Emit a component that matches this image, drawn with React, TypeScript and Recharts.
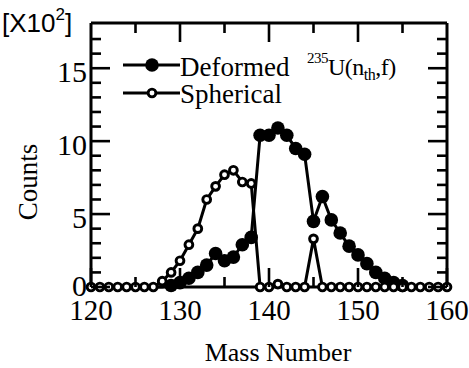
import { LineChart, Line, XAxis, YAxis } from 'recharts';

const massNumbers = [
  120, 121, 122, 123, 124, 125, 126, 127, 128, 129,
  130, 131, 132, 133, 134, 135, 136, 137, 138, 139,
  140, 141, 142, 143, 144, 145, 146, 147, 148, 149,
  150, 151, 152, 153, 154, 155, 156, 157, 158, 159, 160,
];

// counts in units of 10^2
const deformed = [
  0, 0, 0, 0, 0, 0, 0, 0, 0, 0.1,
  0.3, 0.6, 1.0, 1.5, 2.3, 1.8, 2.05, 2.9, 3.4, 10.4,
  10.4, 10.9, 10.4, 9.5, 9.1, 4.5, 6.2, 4.6, 3.7, 2.8,
  2.2, 1.6, 1.0, 0.6, 0.3, 0.1, 0, 0, 0, 0, 0,
];

const spherical = [
  0, 0, 0, 0, 0, 0, 0, 0, 0.4, 1.0,
  1.8, 2.9, 4.0, 6.0, 6.9, 7.7, 8.0, 7.2, 7.1, 0,
  0, 0.2, 0, 0, 0, 3.3, 0, 0, 0, 0,
  0, 0, 0, 0, 0, 0, 0, 0, 0, 0, 0,
];

const xTicksBottom = [120, 125, 130, 135, 140, 145, 150, 155, 160];
const xTicksTop = [125, 130, 135, 140, 145, 150, 155];
const yTicks = [0, 1, 2, 3, 4, 5, 6, 7, 8, 9, 10, 11, 12, 13, 14, 15, 16, 17];
const yLabels = [0, 5, 10, 15];
const xLabels = [120, 130, 140, 150, 160];

const data = massNumbers.map((m, i) => ({ mass: m, deformed: deformed[i], spherical: spherical[i] }));

// the figure uses the whole window, so drop the default body margin
if (typeof document !== 'undefined') document.body.style.margin = '0';

const SERIF = '"Liberation Serif", "Times New Roman", serif';
const MAJOR = 19;
const MINOR = 10;
const TICK_W = 2.6;

const BottomTick = (props: any) => {
  const { x, y, payload } = props;
  const major = payload.value % 10 === 0;
  return (
    <g>
      <line x1={x} x2={x} y1={y} y2={y - (major ? MAJOR : MINOR)} stroke="#000" strokeWidth={TICK_W} />
      {xLabels.includes(payload.value) && (
        <text x={x} y={y + 33} textAnchor="middle" fontFamily={SERIF} fontSize={29} fill="#000">
          {payload.value}
        </text>
      )}
    </g>
  );
};

const TopTick = (props: any) => {
  const { x, y, payload } = props;
  const major = payload.value % 10 === 0;
  return <line x1={x} x2={x} y1={y} y2={y + (major ? MAJOR : MINOR)} stroke="#000" strokeWidth={TICK_W} />;
};

const LeftTick = (props: any) => {
  const { x, y, payload } = props;
  const major = payload.value % 5 === 0;
  return (
    <g>
      <line x1={x} x2={x + (major ? MAJOR : MINOR)} y1={y} y2={y} stroke="#000" strokeWidth={TICK_W} />
      {yLabels.includes(payload.value) && (
        <text x={x - 4} y={y + (payload.value === 0 ? 9 : 14)} textAnchor="end" fontFamily={SERIF} fontSize={30} fill="#000">
          {payload.value}
        </text>
      )}
    </g>
  );
};

const RightTick = (props: any) => {
  const { x, y, payload } = props;
  const major = payload.value % 5 === 0;
  return <line x1={x} x2={x - (major ? MAJOR : MINOR)} y1={y} y2={y} stroke="#000" strokeWidth={TICK_W} />;
};

const FilledDot = (props: any) => {
  const { cx, cy, value, index } = props;
  if (!value) return <g key={`d-${index}`} />;
  return <circle key={`d-${index}`} cx={cx} cy={cy} r={6.8} fill="#000" />;
};

const axisLine = { stroke: '#000', strokeWidth: 3 };

export default function App() {
  return (
    <div style={{ position: 'relative', width: 469, height: 368 }}>
      <LineChart width={469} height={368} data={data} margin={{ top: 22, right: 21, bottom: 80, left: 90 }}>
        <XAxis
          xAxisId="b"
          dataKey="mass"
          type="number"
          domain={[120, 160]}
          ticks={xTicksBottom}
          interval={0}
          height={1}
          tickSize={0}
          tickMargin={0}
          tickLine={false}
          axisLine={axisLine}
          tick={BottomTick}
        />
        <XAxis
          xAxisId="t"
          orientation="top"
          dataKey="mass"
          type="number"
          domain={[120, 160]}
          allowDataOverflow
          ticks={xTicksTop}
          interval={0}
          height={1}
          tickSize={0}
          tickMargin={0}
          tickLine={false}
          axisLine={axisLine}
          tick={TopTick}
        />
        <YAxis
          yAxisId="l"
          type="number"
          domain={[0, 18.1]}
          ticks={yTicks}
          interval={0}
          width={1}
          tickSize={0}
          tickMargin={0}
          tickLine={false}
          axisLine={axisLine}
          tick={LeftTick}
        />
        <YAxis
          yAxisId="r"
          orientation="right"
          type="number"
          domain={[0, 18.1]}
          allowDataOverflow
          ticks={yTicks}
          interval={0}
          width={1}
          tickSize={0}
          tickMargin={0}
          tickLine={false}
          axisLine={axisLine}
          tick={RightTick}
        />
        <Line
          xAxisId="b"
          yAxisId="l"
          type="linear"
          dataKey="deformed"
          name="Deformed"
          stroke="#000"
          strokeWidth={3}
          dot={FilledDot}
          activeDot={false}
          isAnimationActive={false}
        />
        <Line
          xAxisId="b"
          yAxisId="l"
          type="linear"
          dataKey="spherical"
          name="Spherical"
          stroke="#000"
          strokeWidth={3}
          dot={{ r: 3.9, fill: '#fff', stroke: '#000', strokeWidth: 2.9 }}
          activeDot={false}
          isAnimationActive={false}
        />
      </LineChart>
      <svg width={469} height={368} style={{ position: 'absolute', left: 0, top: 0, pointerEvents: 'none' }}>
        {/* legend */}
        <line x1={123} x2={180} y1={65} y2={65} stroke="#000" strokeWidth={3} />
        <circle cx={152} cy={65} r={6.8} fill="#000" />
        <text x={180} y={76} fontFamily={SERIF} fontSize={27} fill="#000">
          Deformed
        </text>
        <line x1={123} x2={180} y1={93} y2={93} stroke="#000" strokeWidth={3} />
        <circle cx={152} cy={93} r={3.9} fill="#fff" stroke="#000" strokeWidth={2.9} />
        <text x={180} y={103} fontFamily={SERIF} fontSize={27} fill="#000">
          Spherical
        </text>

        <text x={2} y={32} fontFamily='"Liberation Sans", Arial, sans-serif' fontSize={26} fill="#000">
          [X10<tspan dy={-12} fontSize={17}>2</tspan><tspan dy={12}>]</tspan>
        </text>
        <text x={37} y={182} transform="rotate(-90, 37, 182)" textAnchor="middle" fontFamily={SERIF} fontSize={27} fill="#000">
          Counts
        </text>
        <text x={278} y={361} textAnchor="middle" fontFamily={SERIF} fontSize={26} fill="#000">
          Mass Number
        </text>
        <text x={307} y={75} fontFamily={SERIF} fontSize={24} letterSpacing={-0.5} fill="#000">
          <tspan fontSize={15} dy={-12}>235</tspan>
          <tspan dy={12}>U(n</tspan>
          <tspan fontSize={16} dy={5}>th</tspan>
          <tspan dy={-5}>,f)</tspan>
        </text>
      </svg>
    </div>
  );
}
